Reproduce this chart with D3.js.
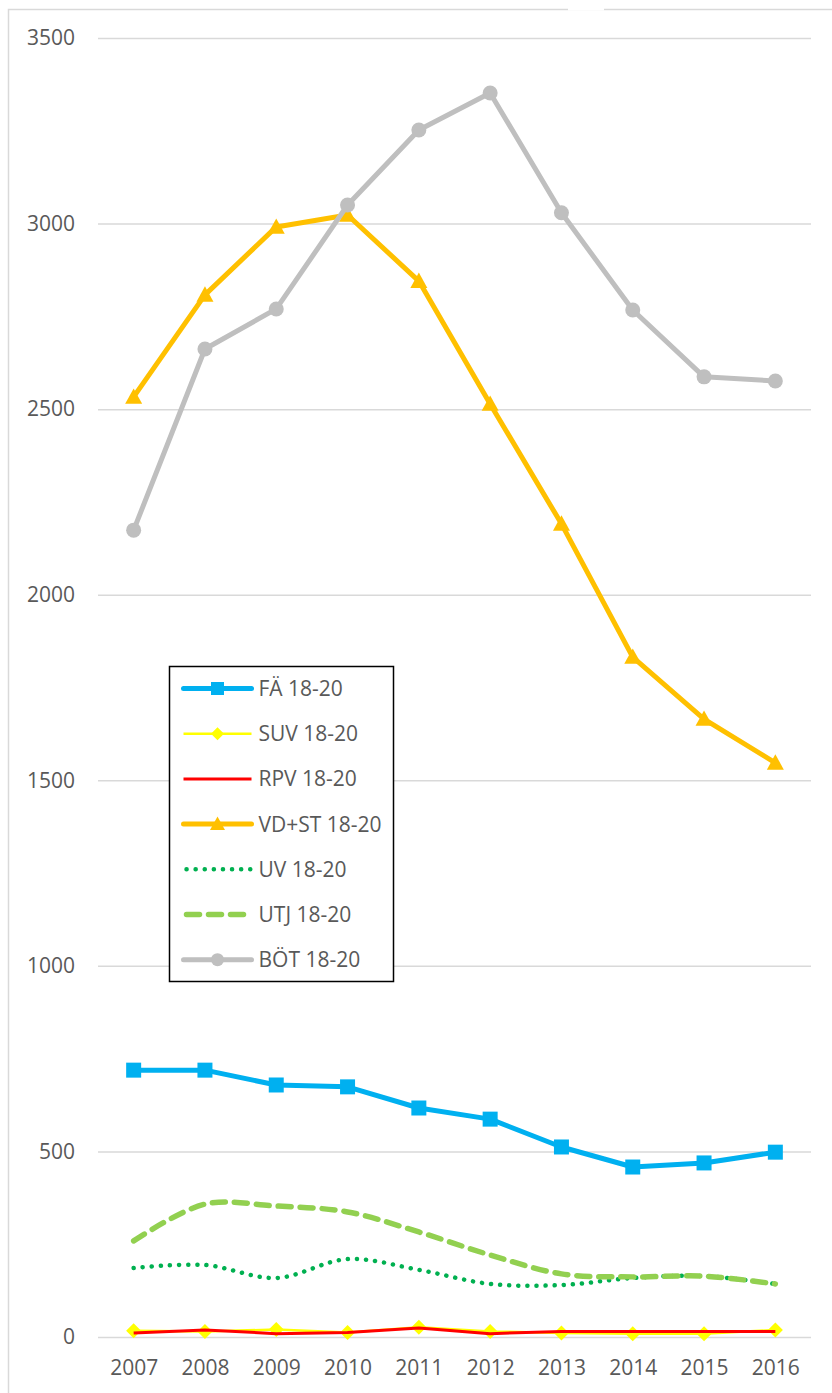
<!DOCTYPE html>
<html>
<head>
<meta charset="utf-8">
<script src="https://cdn.jsdelivr.net/npm/d3@7"></script>
<style>
  body { margin: 0; background: #fff; }
  svg text { font-family: "Open Sans", sans-serif; fill: #595959; }
</style>
</head>
<body>
<svg id="chart" width="832" height="1393"></svg>
<script>
// data
var years = ["2007", "2008", "2009", "2010", "2011", "2012", "2013", "2014", "2015", "2016"]
var yTicks = [0, 500, 1000, 1500, 2000, 2500, 3000, 3500]

var fa   = [719, 719, 679, 674, 617, 587, 512, 458, 469, 498]
var suv  = [17, 15, 20, 12, 26, 15, 11, 9, 9, 19]
var rpv  = [11, 19, 9, 12, 24, 9, 15, 15, 15, 15]
var vdst = [2533, 2808, 2991, 3023, 2845, 2514, 2191, 1832, 1665, 1547]
var uv   = [186, 194, 159, 210, 181, 143, 140, 159, 164, 143]
var utj  = [259, 358, 353, 337, 283, 221, 170, 162, 164, 143]
var bot  = [2174, 2662, 2770, 3050, 3252, 3352, 3029, 2767, 2587, 2576]

var names = ["FÄ 18-20", "SUV 18-20", "RPV 18-20", "VD+ST 18-20", "UV 18-20", "UTJ 18-20", "BÖT 18-20"]

// style per series
var series = [
  { name: names[0], values: fa,   color: "#00B0F0", width: 5,   marker: "square",   size: 15 },
  { name: names[1], values: suv,  color: "#FFFF00", width: 2.5, marker: "diamond",  size: 15 },
  { name: names[2], values: rpv,  color: "#FF0000", width: 3,   marker: null },
  { name: names[3], values: vdst, color: "#FFC000", width: 5,   marker: "triangle", size: 17 },
  { name: names[4], values: uv,   color: "#00B050", width: 4.5, marker: null, dash: "0.1 9", smooth: true },
  { name: names[5], values: utj,  color: "#92D050", width: 5.5, marker: null, dash: "13 9", smooth: true },
  { name: names[6], values: bot,  color: "#BFBFBF", width: 5,   marker: "circle",   size: 15 }
]

var svg = d3.select("#chart")

// outer frame, runs off the right and bottom edge
svg.append("rect")
  .attr("x", 8.5).attr("y", 9.5)
  .attr("width", 900).attr("height", 1500)
  .attr("fill", "none")
  .attr("stroke", "#d9d9d9")
  .attr("stroke-width", 1.5)

svg.append("rect")
  .attr("x", 568).attr("y", 0).attr("width", 36).attr("height", 10.5)
  .attr("fill", "#fff")

// plot area edges (top is a window global, so other names)
var plotLeft = 98, plotRight = 811, plotTop = 38, plotBottom = 1337

var x = d3.scalePoint().domain(years).range([plotLeft, plotRight]).padding(0.5)
var y = d3.scaleLinear().domain([0, 3500]).range([plotBottom, plotTop])

// y axis + gridlines
var yAxis = svg.append("g")
  .attr("transform", "translate(" + plotLeft + ",0)")
  .call(d3.axisLeft(y).tickValues(yTicks).tickFormat(d3.format("d"))
    .tickSize(-(plotRight - plotLeft)).tickPadding(23))
yAxis.select(".domain").remove()
yAxis.selectAll(".tick line").attr("stroke", "#d9d9d9").attr("stroke-width", 1.5)
yAxis.selectAll(".tick text").style("font-size", "21px").attr("fill", "#595959")

// x axis
var xAxis = svg.append("g")
  .attr("transform", "translate(0," + plotBottom + ")")
  .call(d3.axisBottom(x).tickSize(0).tickPadding(23))
xAxis.select(".domain").remove()
xAxis.selectAll(".tick text").style("font-size", "21px").attr("fill", "#595959")

function markerPath(type, size) {
  var s = size / 2
  if (type == "square") return "M" + (-s) + "," + (-s) + "h" + size + "v" + size + "h" + (-size) + "Z"
  if (type == "diamond") return "M0," + (-s) + "L" + s + ",0L0," + s + "L" + (-s) + ",0Z"
  if (type == "triangle") return "M0," + (-s) + "L" + s + "," + (s * 0.8) + "L" + (-s) + "," + (s * 0.8) + "Z"
  if (type == "circle") return d3.symbol(d3.symbolCircle, Math.PI * s * s)()
  return ""
}

var line = d3.line()
  .x(function(d, i) { return x(years[i]) })
  .y(function(d) { return y(d) })

var smoothLine = d3.line()
  .x(function(d, i) { return x(years[i]) })
  .y(function(d) { return y(d) })
  .curve(d3.curveCatmullRom.alpha(0.5))

series.forEach(function(s) {
  var g = svg.append("g")

  g.append("path")
    .attr("d", s.smooth ? smoothLine(s.values) : line(s.values))
    .attr("fill", "none")
    .attr("stroke", s.color)
    .attr("stroke-width", s.width)
    .attr("stroke-linejoin", "round")
    .attr("stroke-linecap", s.dash ? "round" : "butt")
    .attr("stroke-dasharray", s.dash || null)

  if (s.marker) {
    g.selectAll(".pt")
      .data(s.values)
      .enter().append("path")
      .attr("class", "pt")
      .attr("transform", function(d, i) { return "translate(" + x(years[i]) + "," + y(d) + ")" })
      .attr("d", markerPath(s.marker, s.size))
      .attr("fill", s.color)
  }
})

// legend
var lg = svg.append("g").attr("transform", "translate(169.5,666.5)")
lg.append("rect")
  .attr("width", 224).attr("height", 315)
  .attr("fill", "#fff")
  .attr("stroke", "#000")
  .attr("stroke-width", 1.5)

series.forEach(function(s, i) {
  var cy = 22 + i * 45.2
  var row = lg.append("g").attr("transform", "translate(0," + cy + ")")
  row.append("line")
    .attr("x1", s.dash ? 17 : 14).attr("x2", 82)
    .attr("stroke", s.color)
    .attr("stroke-width", s.width)
    .attr("stroke-linecap", s.dash || s.width >= 5 ? "round" : "butt")
    .attr("stroke-dasharray", s.dash || null)
  if (s.marker) {
    row.append("path")
      .attr("transform", "translate(48,0)")
      .attr("d", markerPath(s.marker, s.size - 2))
      .attr("fill", s.color)
  }
  row.append("text")
    .attr("x", 89)
    .attr("dy", "0.36em")
    .style("font-size", "21px")
    .text(s.name)
})
</script>
</body>
</html>
